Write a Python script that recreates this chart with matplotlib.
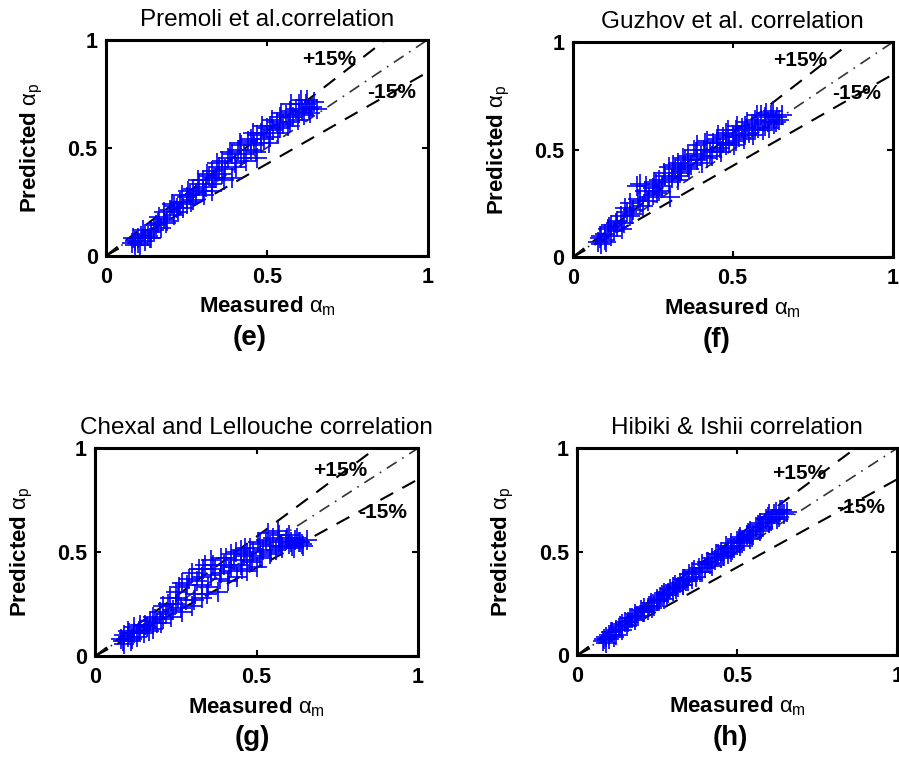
import matplotlib
matplotlib.use('Agg')
import matplotlib.pyplot as plt

plt.rcParams['font.family'] = ['Liberation Sans', 'DejaVu Sans']
plt.rcParams['mathtext.fontset'] = 'custom'
plt.rcParams['mathtext.rm'] = 'Liberation Sans'
plt.rcParams['mathtext.it'] = 'Liberation Sans'
plt.rcParams['mathtext.bf'] = 'Liberation Sans:bold'

# measured void fraction (same data for every correlation)
alpha_m = [0.08, 0.09, 0.09, 0.10, 0.10, 0.11, 0.12, 0.12, 0.13, 0.14, 0.14, 0.15,
           0.16, 0.17, 0.18, 0.18, 0.19, 0.20, 0.21, 0.21, 0.22, 0.23, 0.24, 0.25,
           0.25, 0.26, 0.27, 0.27, 0.28, 0.29, 0.30, 0.30, 0.31, 0.32, 0.33, 0.33,
           0.34, 0.35, 0.36, 0.36, 0.37, 0.38, 0.39, 0.39, 0.40, 0.41, 0.42, 0.42,
           0.43, 0.44, 0.45, 0.45, 0.46, 0.47, 0.48, 0.48, 0.49, 0.50, 0.51, 0.51,
           0.52, 0.53, 0.54, 0.54, 0.55, 0.56, 0.57, 0.57, 0.58, 0.59, 0.60, 0.60,
           0.61, 0.62, 0.63, 0.64,
           0.085, 0.105, 0.115, 0.135, 0.155, 0.165, 0.185, 0.205, 0.225, 0.235,
           0.255, 0.265, 0.285, 0.305, 0.315, 0.335, 0.345, 0.365, 0.385, 0.405,
           0.415, 0.435, 0.455, 0.465, 0.485, 0.505, 0.515, 0.535, 0.545, 0.565,
           0.575, 0.595, 0.605, 0.615, 0.625, 0.635, 0.645, 0.655, 0.33, 0.47]

premoli = [0.06, 0.07, 0.05, 0.08, 0.06, 0.09, 0.07, 0.10, 0.09, 0.11, 0.08, 0.12,
           0.15, 0.13, 0.17, 0.20, 0.16, 0.21, 0.19, 0.23, 0.22, 0.25, 0.22, 0.27,
           0.24, 0.28, 0.26, 0.31, 0.29, 0.33, 0.30, 0.35, 0.32, 0.37, 0.33, 0.39,
           0.36, 0.41, 0.38, 0.44, 0.40, 0.45, 0.36, 0.47, 0.43, 0.49, 0.45, 0.51,
           0.47, 0.53, 0.49, 0.54, 0.51, 0.56, 0.52, 0.57, 0.54, 0.59, 0.55, 0.60,
           0.58, 0.62, 0.59, 0.64, 0.61, 0.65, 0.62, 0.67, 0.64, 0.68, 0.66, 0.70,
           0.67, 0.70, 0.68, 0.69,
           0.08, 0.05, 0.12, 0.08, 0.14, 0.18, 0.15, 0.24, 0.20, 0.28,
           0.30, 0.25, 0.35, 0.28, 0.38, 0.36, 0.43, 0.35, 0.48, 0.41,
           0.52, 0.44, 0.57, 0.48, 0.60, 0.52, 0.63, 0.57, 0.66, 0.60,
           0.70, 0.63, 0.72, 0.65, 0.72, 0.66, 0.71, 0.68, 0.30, 0.45]

guzhov = [0.07, 0.10, 0.06, 0.11, 0.08, 0.13, 0.10, 0.15, 0.12, 0.17, 0.14, 0.19,
          0.16, 0.21, 0.19, 0.25, 0.22, 0.33, 0.26, 0.34, 0.24, 0.33, 0.28, 0.32,
          0.29, 0.34, 0.31, 0.36, 0.33, 0.38, 0.35, 0.42, 0.37, 0.41, 0.38, 0.44,
          0.40, 0.45, 0.42, 0.47, 0.43, 0.50, 0.45, 0.52, 0.47, 0.50, 0.46, 0.54,
          0.49, 0.53, 0.50, 0.55, 0.51, 0.56, 0.52, 0.58, 0.53, 0.57, 0.54, 0.59,
          0.56, 0.60, 0.57, 0.61, 0.58, 0.62, 0.59, 0.64, 0.60, 0.66, 0.61, 0.65,
          0.63, 0.66, 0.62, 0.65,
          0.09, 0.07, 0.14, 0.16, 0.13, 0.23, 0.20, 0.27, 0.31, 0.26,
          0.35, 0.30, 0.39, 0.28, 0.43, 0.39, 0.46, 0.41, 0.48, 0.44,
          0.53, 0.47, 0.57, 0.49, 0.59, 0.52, 0.61, 0.55, 0.63, 0.57,
          0.66, 0.59, 0.67, 0.60, 0.68, 0.63, 0.64, 0.66, 0.36, 0.53]

chexal = [0.08, 0.10, 0.06, 0.09, 0.12, 0.07, 0.11, 0.14, 0.09, 0.13, 0.15, 0.11,
          0.14, 0.17, 0.13, 0.19, 0.16, 0.21, 0.18, 0.24, 0.20, 0.28, 0.22, 0.31,
          0.25, 0.33, 0.21, 0.35, 0.27, 0.37, 0.24, 0.40, 0.30, 0.42, 0.28, 0.38,
          0.44, 0.33, 0.46, 0.39, 0.42, 0.31, 0.47, 0.40, 0.44, 0.36, 0.49, 0.43,
          0.46, 0.38, 0.51, 0.44, 0.48, 0.41, 0.52, 0.46, 0.50, 0.43, 0.54, 0.48,
          0.51, 0.56, 0.49, 0.53, 0.57, 0.51, 0.55, 0.58, 0.52, 0.56, 0.54, 0.58,
          0.53, 0.56, 0.55, 0.54,
          0.07, 0.11, 0.08, 0.12, 0.15, 0.12, 0.18, 0.16, 0.25, 0.19,
          0.28, 0.23, 0.34, 0.27, 0.36, 0.42, 0.30, 0.44, 0.37, 0.47,
          0.41, 0.50, 0.42, 0.52, 0.45, 0.55, 0.47, 0.59, 0.50, 0.60,
          0.53, 0.57, 0.55, 0.52, 0.57, 0.55, 0.53, 0.56, 0.34, 0.49]

hibiki = [0.07, 0.09, 0.06, 0.10, 0.08, 0.11, 0.12, 0.10, 0.13, 0.15, 0.12, 0.16,
          0.16, 0.18, 0.17, 0.20, 0.19, 0.22, 0.21, 0.23, 0.22, 0.25, 0.24, 0.27,
          0.26, 0.28, 0.27, 0.30, 0.29, 0.32, 0.31, 0.33, 0.32, 0.35, 0.34, 0.37,
          0.36, 0.39, 0.37, 0.40, 0.38, 0.42, 0.40, 0.44, 0.42, 0.45, 0.43, 0.47,
          0.46, 0.49, 0.47, 0.50, 0.48, 0.52, 0.50, 0.54, 0.52, 0.55, 0.53, 0.57,
          0.55, 0.58, 0.56, 0.60, 0.58, 0.62, 0.60, 0.64, 0.62, 0.66, 0.64, 0.68,
          0.66, 0.69, 0.67, 0.70,
          0.08, 0.11, 0.09, 0.14, 0.14, 0.18, 0.19, 0.21, 0.24, 0.23,
          0.26, 0.29, 0.30, 0.34, 0.33, 0.37, 0.36, 0.41, 0.40, 0.45,
          0.44, 0.49, 0.48, 0.53, 0.51, 0.56, 0.54, 0.59, 0.57, 0.63,
          0.61, 0.67, 0.65, 0.68, 0.66, 0.70, 0.68, 0.69, 0.34, 0.49]

titles = ['Premoli et al.correlation', 'Guzhov et al. correlation',
          'Chexal and Lellouche correlation', 'Hibiki & Ishii correlation']
letters = ['(e)', '(f)', '(g)', '(h)']
predicted = [premoli, guzhov, chexal, hibiki]

# axes rectangles (fig fraction) and text positions
rects = [[0.118, 0.664, 0.358, 0.284],
         [0.637, 0.662, 0.356, 0.2825],
         [0.106, 0.138, 0.359, 0.273],
         [0.642, 0.139, 0.356, 0.272]]
plus_pos = [(0.61, 0.907), (0.625, 0.916), (0.675, 0.894), (0.61, 0.88)]
minus_pos = [(0.81, 0.755), (0.81, 0.763), (0.815, 0.69), (0.81, 0.715)]
letter_pos = [(0.447, -0.38), (0.45, -0.386), (0.486, -0.394), (0.478, -0.40)]

fig = plt.figure(figsize=(8.99, 7.61), dpi=100)

for i in range(4):
    ax = fig.add_axes(rects[i])
    xx = [0, 1]
    ax.plot(xx, [1.15 * v for v in xx], color='black', ls=(0, (7, 5)), lw=1.5)
    ax.plot(xx, xx, color='#333333', ls=(0, (7, 4, 1, 4)), lw=1.2)
    ax.plot(xx, [0.85 * v for v in xx], color='black', ls=(0, (7, 5)), lw=1.5)
    ax.plot(alpha_m, predicted[i], ls='none', marker='+', color='#0000ff',
            markersize=14, markeredgewidth=1.2)

    ax.set_xlim(0, 1)
    ax.set_ylim(0, 1)
    ax.set_xticks([0, 0.5, 1])
    ax.set_yticks([0, 0.5, 1])
    ax.set_xticklabels(['0', '0.5', '1'])
    ax.set_yticklabels(['0', '0.5', '1'])
    ax.tick_params(direction='in', top=True, right=True, length=4, width=1.5,
                   labelsize=15.5)
    ax.tick_params(axis='x', pad=8)
    ax.tick_params(axis='y', pad=6)
    for lab in ax.get_xticklabels() + ax.get_yticklabels():
        lab.set_fontweight('bold')
    for sp in ax.spines.values():
        sp.set_linewidth(2.2)

    ax.text(plus_pos[i][0], plus_pos[i][1], '+15%', fontsize=15,
            fontweight='bold', va='center', ha='left')
    ax.text(minus_pos[i][0], minus_pos[i][1], '-15%', fontsize=15,
            fontweight='bold', va='center', ha='left')

    ax.set_title(titles[i], fontsize=17.5, pad=10)
    ax.set_xlabel(r'Measured $\alpha_{\rm m}$', fontsize=16, fontweight='bold',
                  labelpad=5)
    ax.set_ylabel(r'Predicted $\alpha_{\rm p}$', fontsize=16, fontweight='bold',
                  labelpad=16)
    ax.text(letter_pos[i][0], letter_pos[i][1], letters[i], transform=ax.transAxes,
            fontsize=20, fontweight='bold', ha='center', va='center')

fig.savefig('out.png', dpi=100)
